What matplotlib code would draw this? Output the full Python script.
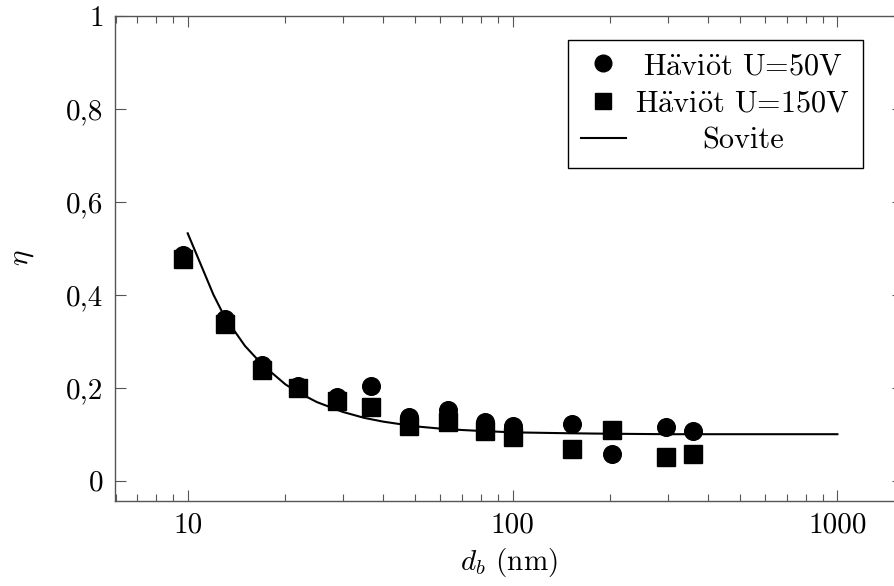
import matplotlib
matplotlib.use("Agg")
import matplotlib.pyplot as plt
from matplotlib.ticker import FixedLocator, FixedFormatter, LogLocator, NullFormatter

plt.rcParams['font.family'] = ['cmr10', 'DejaVu Serif']
plt.rcParams['mathtext.fontset'] = 'cm'
plt.rcParams['axes.unicode_minus'] = False

# ---- data ----
d_b = [9.7, 13.0, 16.9, 21.9, 28.9, 36.7, 48.0, 63.2, 82.4, 100, 152, 202, 297, 360]
eta_50 = [0.486, 0.348, 0.249, 0.204, 0.181, 0.204, 0.138, 0.152, 0.126, 0.118, 0.123, 0.057, 0.115, 0.107]
eta_150 = [0.476, 0.336, 0.237, 0.199, 0.171, 0.158, 0.117, 0.126, 0.107, 0.094, 0.068, 0.108, 0.052, 0.057]

fit_x = [10, 12, 13, 15, 17, 20, 22, 25, 30, 35, 40, 50, 60, 70, 80, 100, 150, 200, 300, 500, 1000]
fit_y = [0.532, 0.40, 0.352, 0.29, 0.249, 0.207, 0.189, 0.169, 0.148, 0.135, 0.127, 0.117,
         0.112, 0.109, 0.107, 0.104, 0.102, 0.101, 0.100, 0.100, 0.100]

x_ticks = [10, 100, 1000]
x_tick_labels = ['10', '100', '1000']
y_ticks = [0, 0.2, 0.4, 0.6, 0.8, 1.0]
y_tick_labels = ['0', '0,2', '0,4', '0,6', '0,8', '1']

# Häviöt written with TeX-style accents so the Computer Modern glyphs are used
labels = [r'H$\ddot{\rm a}$vi$\ddot{\rm o}$t U=50V',
          r'H$\ddot{\rm a}$vi$\ddot{\rm o}$t U=150V',
          'Sovite']

# ---- figure ----
fig = plt.figure(figsize=(8.95, 5.86), dpi=100)
W, H = 895, 586
x0, x1, y0, y1 = 114.7, 903, 500.7, 15.7
ax = fig.add_axes([x0 / W, 1 - y0 / H, (x1 - x0) / W, (y0 - y1) / H])

FS = 21
LFS = 21.8
ms = 12.7
ax.plot(d_b, eta_50, 'o', color='black', markersize=ms, label=labels[0], zorder=3)
ax.plot(d_b, eta_150, 's', color='black', markersize=ms, label=labels[1], zorder=3)
ax.plot(fit_x, fit_y, '-', color='black', lw=1.5, label=labels[2], zorder=2)

ax.set_xscale('log')
ax.set_xlim(5.96, 1592)
ax.set_ylim(-0.043, 1.0)

ax.xaxis.set_major_locator(FixedLocator(x_ticks))
ax.xaxis.set_major_formatter(FixedFormatter(x_tick_labels))
ax.xaxis.set_minor_locator(LogLocator(base=10, subs=range(2, 10)))
ax.xaxis.set_minor_formatter(NullFormatter())
ax.yaxis.set_major_locator(FixedLocator(y_ticks))
ax.yaxis.set_major_formatter(FixedFormatter(y_tick_labels))

spine_color = '#555555'
for s in ax.spines.values():
    s.set_color(spine_color)
    s.set_linewidth(1.0)

ax.tick_params(which='both', direction='in', top=True, right=True,
               color=spine_color, width=0.8, labelsize=FS, labelcolor='black')
ax.tick_params(which='major', length=8, pad=8)
ax.tick_params(which='minor', length=5)

ax.set_xlabel(r'$d_b$ (nm)', fontsize=FS, labelpad=6)
ax.set_ylabel(r'$\eta$', fontsize=FS, labelpad=22)

leg = ax.legend(loc='upper right', bbox_to_anchor=(0.949, 0.950), borderaxespad=0,
                fontsize=LFS, frameon=True, fancybox=False, edgecolor='black',
                framealpha=1, handlelength=1.5, handletextpad=0.3,
                labelspacing=0.33, borderpad=0.42, markerscale=0.945)
leg.get_frame().set_linewidth(1.0)

# center legend texts within their column (pgfplots style)
fig.canvas.draw()
renderer = fig.canvas.get_renderer()
widths = [t.get_window_extent(renderer).width for t in leg.get_texts()]
wmax = max(widths)
column = leg._legend_handle_box.get_children()[0]
rows = column.get_children()
for row, w in zip(rows, widths):
    row.sep = row.sep + (wmax - w) / 2 * 72.0 / fig.dpi

fig.savefig('out.png', dpi=100)
